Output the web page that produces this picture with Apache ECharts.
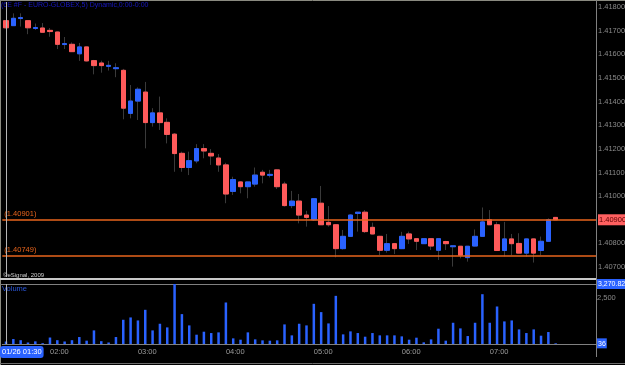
<!DOCTYPE html>
<html>
<head>
<meta charset="utf-8">
<script src="https://cdn.jsdelivr.net/npm/echarts@6.0.0/dist/echarts.min.js"></script>
<style>
html, body { margin: 0; padding: 0; background: #000; }
#chart { width: 625px; height: 365px; }
</style>
</head>
<body>
<div id="chart"></div>
<script>
// 5 min bars, 6E #F, 01/26 01:30 - 07:45
const dateLabel = '01/26';
const startTime = '01:30';
const slotCount = 81; // 76 bars + empty room on the right

const open = [1.41742,1.41721,1.41751,1.41742,1.41709,1.41711,1.41701,1.41694,1.41641,1.41642,
  1.41602,1.41631,1.41573,1.41563,1.41549,1.41539,1.41532,1.41350,1.41402,1.41440,
  1.41311,1.41352,1.41312,1.41262,1.41181,1.41121,1.41149,1.41201,1.41181,1.41161,
  1.41132,1.41020,1.41060,1.41040,1.41051,1.41101,1.41088,1.41111,1.41051,1.40960,
  1.40979,1.40920,1.40900,1.40970,1.40889,1.40879,1.40778,1.40830,1.40927,1.40932,
  1.40868,1.40830,1.40771,1.40799,1.40778,1.40840,1.40820,1.40799,1.40820,1.40771,
  1.40808,1.40786,1.40788,1.40740,1.40789,1.40830,1.40900,1.40879,1.40770,1.40819,
  1.40800,1.40759,1.40819,1.40770,1.40809,1.40910];
const close = [1.41712,1.41752,1.41755,1.41712,1.41713,1.41693,1.41696,1.41642,1.41645,1.41611,
  1.41631,1.41572,1.41552,1.41552,1.41553,1.41543,1.41372,1.41402,1.41452,1.41311,
  1.41352,1.41311,1.41261,1.41180,1.41121,1.41150,1.41201,1.41191,1.41170,1.41132,
  1.41009,1.41070,1.41040,1.41060,1.41089,1.41089,1.41092,1.41040,1.40960,1.40979,
  1.40920,1.40910,1.40989,1.40879,1.40879,1.40778,1.40830,1.40920,1.40932,1.40850,
  1.40840,1.40771,1.40799,1.40778,1.40830,1.40819,1.40809,1.40820,1.40789,1.40820,
  1.40799,1.40790,1.40750,1.40788,1.40830,1.40891,1.40879,1.40770,1.40819,1.40799,
  1.40759,1.40819,1.40759,1.40809,1.40900,1.40900];
const low = [1.41709,1.41720,1.41717,1.41685,1.41703,1.41690,1.41674,1.41622,1.41622,1.41610,
  1.41572,1.41569,1.41515,1.41522,1.41531,1.41503,1.41325,1.41329,1.41322,1.41202,
  1.41294,1.41280,1.41223,1.41103,1.41103,1.41089,1.41139,1.41160,1.41132,1.41103,
  1.40970,1.41005,1.41012,1.40991,1.41040,1.41054,1.41079,1.41030,1.40956,1.40949,
  1.40885,1.40871,1.40895,1.40878,1.40871,1.40741,1.40774,1.40827,1.40850,1.40844,
  1.40838,1.40751,1.40761,1.40755,1.40776,1.40798,1.40772,1.40798,1.40772,1.40730,
  1.40772,1.40702,1.40737,1.40723,1.40787,1.40830,1.40878,1.40768,1.40745,1.40750,
  1.40757,1.40744,1.40719,1.40750,1.40808,1.40899];
const high = [1.41745,1.41773,1.41773,1.41743,1.41730,1.41732,1.41711,1.41696,1.41673,1.41650,
  1.41648,1.41633,1.41576,1.41573,1.41572,1.41562,1.41538,1.41470,1.41460,1.41483,
  1.41372,1.41421,1.41329,1.41267,1.41188,1.41188,1.41220,1.41220,1.41199,1.41178,
  1.41141,1.41082,1.41064,1.41061,1.41121,1.41111,1.41111,1.41113,1.41061,1.41022,
  1.41009,1.40938,1.40992,1.41043,1.40958,1.40882,1.40857,1.40924,1.40933,1.40941,
  1.40888,1.40832,1.40840,1.40802,1.40849,1.40850,1.40821,1.40821,1.40821,1.40821,
  1.40811,1.40791,1.40789,1.40789,1.40859,1.40952,1.40941,1.40891,1.40891,1.40840,
  1.40843,1.40821,1.40821,1.40829,1.40906,1.40912];
const volume = [136,270,208,82,145,45,353,208,137,208,
  380,182,742,154,82,380,1321,1448,1285,1864,
  742,1104,905,3270.82,1629,1014,507,670,597,634,
  2263,308,235,634,253,199,181,199,1068,471,
  1104,1014,2190,1738,1122,2625,525,688,597,398,
  597,471,471,471,416,235,344,91,253,833,
  181,1158,851,434,1158,2715,1158,2045,1231,1285,
  796,597,796,453,652,36];

const priceTicks = [1.407,1.408,1.409,1.410,1.411,1.412,1.413,1.414,1.415,1.416,1.417,1.418];
const volumeTicks = [2500];
const levels = [1.40901, 1.40749];

// time labels every 5 minutes
const times = [];
let [hh, mm] = startTime.split(':').map(Number);
for (let i = 0; i < slotCount; i++) {
  times.push(String(hh).padStart(2, '0') + ':' + String(mm).padStart(2, '0'));
  mm += 5;
  if (mm >= 60) { mm -= 60; hh++; }
}

const lastClose = close[close.length - 1];
const volMax = Math.max(...volume);
const lastVol = volume[volume.length - 1];

const upColor = '#2a62ff';
const downColor = '#ff5a5a';
const wickColor = '#3a3a3a';
const levelColor = '#e8641c';
const font = 'Liberation Sans, Arial, sans-serif';

const candles = open.map((o, i) => [o, close[i], low[i], high[i]]);
const bodies = open.map((o, i) => [o, close[i], Math.min(o, close[i]), Math.max(o, close[i])]);

var myChart = echarts.init(document.getElementById('chart'));

var option = {
  backgroundColor: '#000',
  animation: false,
  textStyle: { fontFamily: font },
  title: [
    {
      text: '(6E #F - EURO-GLOBEX,5) Dynamic,0:00-0:00',
      left: 1, top: 2, padding: 0,
      textStyle: { color: '#1818c0', fontSize: 7, fontWeight: 'normal', fontFamily: font }
    },
    {
      text: '©eSignal, 2009',
      left: 3, top: 272, padding: 0,
      textStyle: { color: '#d0d0d0', fontSize: 6, fontWeight: 'normal', fontFamily: font }
    },
    {
      text: 'Volume',
      left: 2, top: 285, padding: 0,
      textStyle: { color: '#2a56d8', fontSize: 7.5, fontWeight: 'normal', fontFamily: font }
    }
  ],
  grid: [
    { left: 2.34, right: 29, top: 2, height: 275, outerBoundsMode: 'none' },
    { left: 2.34, right: 29, top: 284, height: 60, outerBoundsMode: 'none' }
  ],
  xAxis: [
    {
      type: 'category',
      gridIndex: 0,
      data: times,
      boundaryGap: true,
      axisLine: { show: false },
      axisTick: { show: false },
      axisLabel: { show: false },
      splitLine: { show: false },
      axisPointer: {
        show: true, type: 'line', value: 0, status: 'show', triggerTooltip: false,
        lineStyle: { color: '#b4b4b4', width: 1, type: 'solid' },
        label: { show: false }
      }
    },
    {
      type: 'category',
      gridIndex: 1,
      data: times,
      boundaryGap: true,
      axisLine: { show: true, lineStyle: { color: '#808080' } },
      axisTick: { show: false },
      axisLabel: {
        color: '#9a9a9a',
        fontSize: 7.5,
        fontFamily: font,
        align: 'left',
        margin: 4,
        interval: (idx, val) => idx < close.length && val.endsWith(':00')
      },
      splitLine: { show: false },
      axisPointer: {
        show: true, type: 'line', value: 0, status: 'show', triggerTooltip: false,
        lineStyle: { color: '#b4b4b4', width: 1, type: 'solid' },
        label: {
          show: true,
          formatter: dateLabel + ' ' + times[0],
          backgroundColor: upColor,
          color: '#ffffff',
          fontSize: 7.5,
          fontFamily: font,
          padding: [2, 2, 2, 2],
          margin: 2
        }
      }
    }
  ],
  yAxis: [
    {
      type: 'value',
      gridIndex: 0,
      position: 'right',
      min: 1.40658,
      max: 1.41821,
      axisLine: { show: true, lineStyle: { color: '#808080' } },
      axisTick: { show: false },
      splitLine: { show: false },
      axisLabel: {
        customValues: priceTicks,
        margin: 2,
        color: '#8a8a8a',
        fontSize: 7.5,
        fontFamily: font,
        formatter: (v) => Math.abs(v - lastClose) < 1e-7 ? '{hl|' + v.toFixed(5) + '}' : v.toFixed(5),
        rich: {
          hl: { backgroundColor: '#ff6060', color: '#5a0000', fontSize: 7.5, fontFamily: font, padding: [2, 2, 1, 1] }
        }
      }
    },
    {
      type: 'value',
      gridIndex: 1,
      position: 'right',
      min: 0,
      max: volMax,
      axisLine: { show: true, lineStyle: { color: '#808080' } },
      axisTick: { show: false },
      splitLine: { show: false },
      axisLabel: {
        customValues: volumeTicks.concat([volMax, lastVol]),
        margin: 1,
        color: '#8a8a8a',
        fontSize: 7.5,
        fontFamily: font,
        formatter: (v) => {
          if (v === volMax) return '{hl|' + v.toLocaleString('en-US', { minimumFractionDigits: 2 }) + '}';
          if (v === lastVol) return '{hl|' + v + '}';
          return v.toLocaleString('en-US');
        },
        rich: {
          hl: { backgroundColor: upColor, color: '#ffffff', fontSize: 7, fontFamily: font, padding: [2, 1, 1, 1] }
        }
      }
    }
  ],
  series: [
    // wicks (dark gray), bodies drawn on top by the next series
    {
      type: 'candlestick',
      xAxisIndex: 0,
      yAxisIndex: 0,
      barWidth: 5,
      data: candles,
      itemStyle: {
        color: wickColor, color0: wickColor,
        borderColor: wickColor, borderColor0: wickColor,
        borderWidth: 1
      },
      z: 2
    },
    {
      type: 'candlestick',
      xAxisIndex: 0,
      yAxisIndex: 0,
      barWidth: 5,
      data: bodies,
      itemStyle: {
        color: upColor, color0: downColor,
        borderColor: upColor, borderColor0: downColor,
        borderWidth: 1
      },
      z: 3
    },
    // horizontal level lines
    {
      type: 'line',
      xAxisIndex: 0,
      yAxisIndex: 0,
      data: times.map(() => null),
      showSymbol: false,
      z: 4,
      markLine: {
        silent: true,
        symbol: 'none',
        precision: 5,
        lineStyle: { color: levelColor, width: 1.5, type: 'solid' },
        label: {
          position: 'insideStartTop',
          color: levelColor,
          fontSize: 7.5,
          fontFamily: font,
          distance: [2, 2],
          formatter: (p) => '(' + Number(p.value).toFixed(5) + ')'
        },
        data: levels.map((v) => ({ yAxis: v }))
      }
    },
    {
      type: 'bar',
      xAxisIndex: 1,
      yAxisIndex: 1,
      barWidth: 2.5,
      data: volume,
      itemStyle: { color: upColor }
    }
  ],
  graphic: [
    { type: 'line', shape: { x1: 0, y1: 0.5, x2: 625, y2: 0.5 }, style: { stroke: '#8a8a80', lineWidth: 1 } },
    { type: 'line', shape: { x1: 0.5, y1: 0, x2: 0.5, y2: 365 }, style: { stroke: '#8a8a80', lineWidth: 1 } },
    { type: 'rect', shape: { x: 0, y: 278, width: 596, height: 2 }, style: { fill: '#c8c8c8' } },
    { type: 'line', shape: { x1: 0, y1: 284.5, x2: 596, y2: 284.5 }, style: { stroke: '#808080', lineWidth: 1 } },
    { type: 'line', shape: { x1: 596.5, y1: 0, x2: 596.5, y2: 357 }, style: { stroke: '#808080', lineWidth: 1 } },
    { type: 'line', shape: { x1: 0, y1: 363.5, x2: 625, y2: 363.5 }, style: { stroke: '#6a6a6a', lineWidth: 1 } }
  ]
};

myChart.setOption(option);
</script>
</body>
</html>
